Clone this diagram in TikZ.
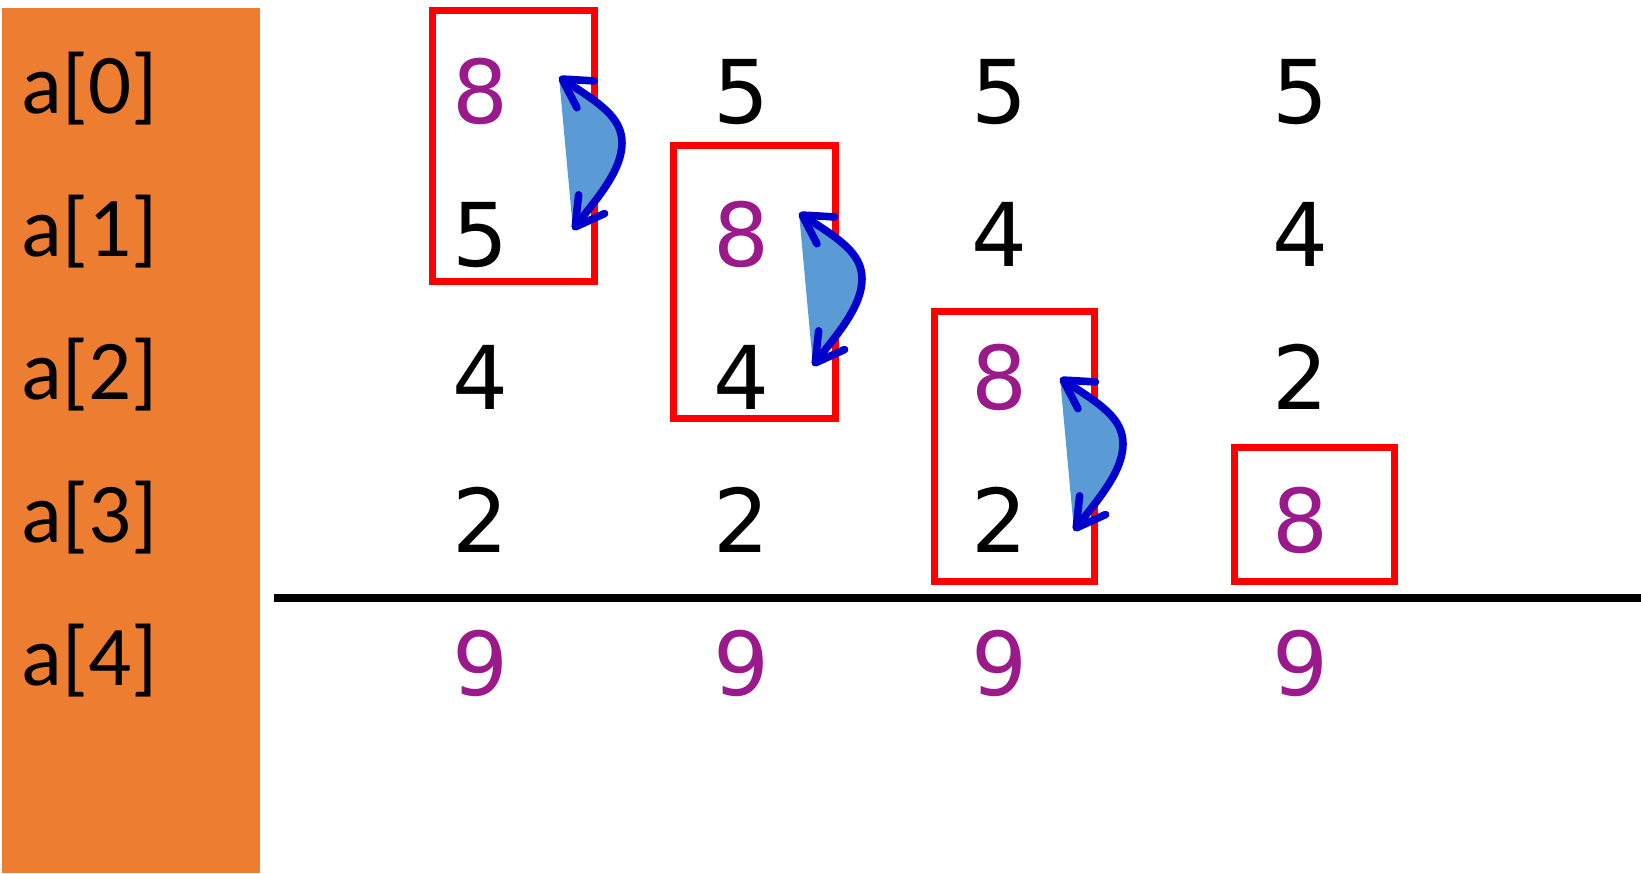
\documentclass[tikz,border=0pt]{standalone}
\usepackage{fontspec}
\setmainfont{DejaVu Sans}
\newfontfamily\labelfont{Carlito}
\usetikzlibrary{arrows.meta}
\definecolor{panelorange}{HTML}{ED7D31}
\definecolor{boxred}{HTML}{FF0000}
\definecolor{valpurple}{HTML}{9A1A8C}
\definecolor{swapfillc}{HTML}{5B9BD5}
\definecolor{swapblue}{HTML}{0000CC}
\tikzset{
  idx/.style={anchor=base west, inner sep=0pt, font=\labelfont\fontsize{42.5}{50}\selectfont},
  val/.style={anchor=base, inner sep=0pt, font=\fontsize{44}{52}\selectfont, text=black},
  hot/.style={val, text=valpurple},
  redbox/.style={draw=boxred, line width=3.5pt},
  swapfill/.style={fill=swapfillc},
  swapline/.style={draw=swapblue, line width=3.8pt, line cap=round,
    >={Straight Barb[length=14pt,width=16pt,round]}, <->},
  swap/.pic={
    \fill[swapfill] (0,0) .. controls (40,26) and (63,40) .. (63,66)
       .. controls (63,96) and (32,128) .. (14,153) -- cycle;
    \draw[swapline] (0,0) .. controls (40,26) and (63,40) .. (63,66)
       .. controls (63,96) and (32,128) .. (14,153);
  }
}
\begin{document}
\begin{tikzpicture}[x=0.5pt,y=-0.5pt]
\useasboundingbox (0,0) rectangle (1641,873);
% left panel
\fill[panelorange] (2,8) rectangle (260,873);
\foreach \i in {0,...,4}{
  \node[idx] (lab\i) at (21,{113+143*\i}) {a[\i]};
}
% column 1
\node[hot] (c1r0) at (480,123) {8};
\node[val] (c1r1) at (480,266) {5};
\node[val] (c1r2) at (480,409) {4};
\node[val] (c1r3) at (480,552) {2};
\node[hot] (c1r4) at (480,695) {9};
% column 2
\node[val] (c2r0) at (741,123) {5};
\node[hot] (c2r1) at (741,266) {8};
\node[val] (c2r2) at (741,409) {4};
\node[val] (c2r3) at (741,552) {2};
\node[hot] (c2r4) at (741,695) {9};
% column 3
\node[val] (c3r0) at (999,123) {5};
\node[val] (c3r1) at (999,266) {4};
\node[hot] (c3r2) at (999,409) {8};
\node[val] (c3r3) at (999,552) {2};
\node[hot] (c3r4) at (999,695) {9};
% column 4
\node[val] (c4r0) at (1300,123) {5};
\node[val] (c4r1) at (1300,266) {4};
\node[val] (c4r2) at (1300,409) {2};
\node[hot] (c4r3) at (1300,552) {8};
\node[hot] (c4r4) at (1300,695) {9};
% red boxes
\draw[redbox] (432,10) rectangle (594,281);
\draw[redbox] (673,145) rectangle (835,418);
\draw[redbox] (934,311) rectangle (1094,581);
\draw[redbox] (1234,447) rectangle (1394,581);
% swap arrows
\pic (g1) at (559,77) {swap};
\pic (g2) at (799,213) {swap};
\pic (g3) at (1060,378) {swap};
% separator line
\coordinate (lineL) at (274,598);
\coordinate (lineR) at (1641,598);
\draw[line width=4pt] (lineL) -- (lineR);
\end{tikzpicture}
\end{document}
